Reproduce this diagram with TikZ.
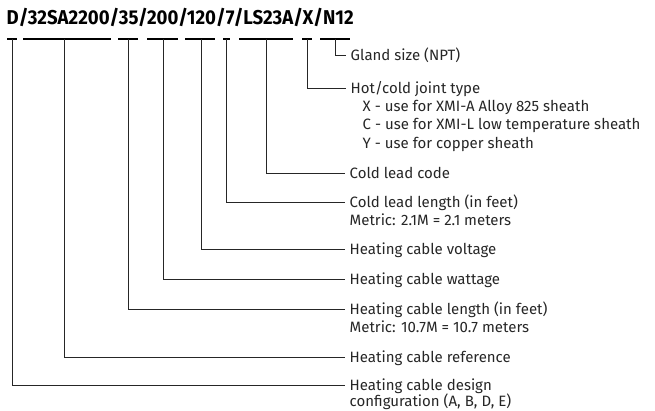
\documentclass[tikz,border=0pt]{standalone}
\usepackage{fontspec}
\setmainfont{Fira Sans}
\usetikzlibrary{positioning}

\tikzset{
  bar/.style={line width=2pt},
  lead/.style={line width=0.9pt, black!85},
  lab/.style={anchor=west, inner xsep=4.5pt, inner ysep=0pt, text height=10.4pt, text depth=0pt, font=\fontsize{15}{18}\selectfont, text=black!85},
}

\begin{document}
\begin{tikzpicture}[x=1pt, y=-1pt]
    \useasboundingbox (0,0) rectangle (655,410);

    % Code
    \node[anchor=base west, inner sep=0pt] (code) at (6.5,24.5)
      {\scalebox{0.93}[1]{\fontsize{20}{24}\selectfont\bfseries D/32SA2200/35/200/120/7/LS23A/X/N12}};

    % Bars under each part of the code
    \draw[bar] (7,38.5) -- (17,38.5);
    \draw[bar] (23,38.5) -- (111,38.5);
    \draw[bar] (118,38.5) -- (138,38.5);
    \draw[bar] (147,38.5) -- (178,38.5);
    \draw[bar] (185,38.5) -- (215,38.5);
    \draw[bar] (223,38.5) -- (230,38.5);
    \draw[bar] (239,38.5) -- (293,38.5);
    \draw[bar] (302,38.5) -- (312,38.5);
    \draw[bar] (320,38.5) -- (350,38.5);

    \coordinate (cfg) at (12,38.5);
    \coordinate (ref) at (64,38.5);
    \coordinate (len) at (128,38.5);
    \coordinate (watt) at (163,38.5);
    \coordinate (volt) at (201,38.5);
    \coordinate (cll) at (226,38.5);
    \coordinate (clc) at (266,38.5);
    \coordinate (joint) at (307,38.5);
    \coordinate (gland) at (335,38.5);

    % Labels
    \node[lab] (glandL) at (346,55.5) {Gland size (NPT)};
    \node[lab] (jointL) at (346,88) {Hot/cold joint type};
    \node[lab, xshift=12pt] (jointX) at ([yshift=-18.3pt]jointL.west) {X - use for XMI-A Alloy 825 sheath};
    \node[lab] (jointC) at ([yshift=-18.3pt]jointX.west) {C - use for XMI-L low temperature sheath};
    \node[lab] (jointY) at ([yshift=-18.3pt]jointC.west) {Y - use for copper sheath};
    \node[lab] (clcL) at (345,173.5) {Cold lead code};
    \node[lab] (cllL) at (345,202) {Cold lead length (in feet)};
    \node[lab] (cllM) at ([yshift=-18.3pt]cllL.west) {Metric: 2.1M = 2.1 meters};
    \node[lab] (voltL) at (345,249.5) {Heating cable voltage};
    \node[lab] (wattL) at (345,279.5) {Heating cable wattage};
    \node[lab] (lenL) at (345,309) {Heating cable length (in feet)};
    \node[lab] (lenM) at ([yshift=-18.3pt]lenL.west) {Metric: 10.7M = 10.7 meters};
    \node[lab] (refL) at (345,357) {Heating cable reference};
    \node[lab] (cfgL) at (345,385.5) {Heating cable design};
    \node[lab] (cfgM) at ([yshift=-16pt]cfgL.west) {configuration (A, B, D, E)};

    % Leaders
    \draw[lead] (gland) |- (glandL.west);
    \draw[lead] (joint) |- (jointL.west);
    \draw[lead] (clc) |- (clcL.west);
    \draw[lead] (cll) |- (cllL.west);
    \draw[lead] (volt) |- (voltL.west);
    \draw[lead] (watt) |- (wattL.west);
    \draw[lead] (len) |- (lenL.west);
    \draw[lead] (ref) |- (refL.west);
    \draw[lead] (cfg) |- (cfgL.west);
\end{tikzpicture}
\end{document}
